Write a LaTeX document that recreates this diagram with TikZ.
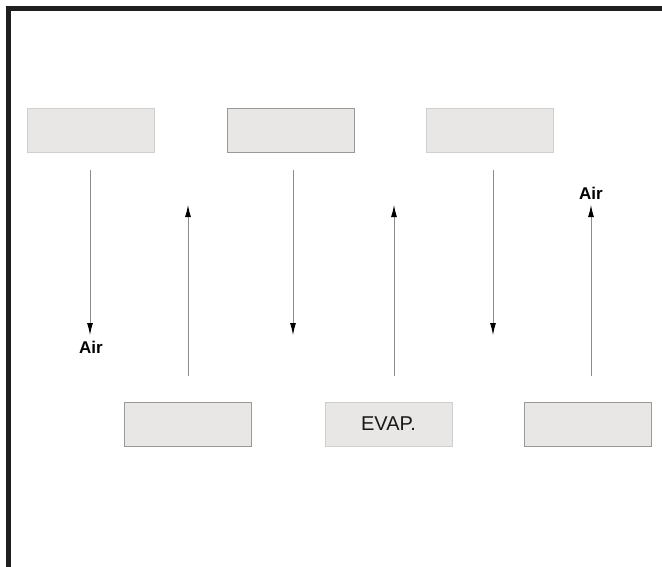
\documentclass[tikz,border=0pt]{standalone}
\usepackage{fontspec}
\setmainfont{Liberation Sans}
\usetikzlibrary{positioning, arrows.meta}
\definecolor{boxfill}{HTML}{E8E7E5}
\definecolor{edgelight}{HTML}{D0CFCD}
\definecolor{edgedark}{HTML}{9A9998}
\definecolor{linegray}{HTML}{8C8C8C}

\begin{document}
\begin{tikzpicture}[x=1pt, y=-1pt,
        unit/.style={draw=#1, fill=boxfill, line width=0.9pt, minimum width=127pt, minimum height=44pt,
                inner sep=0pt, font=\fontsize{20}{24}\selectfont, text=black!90},
        unit/.default=edgelight,
        flow/.style={draw=linegray, line width=0.9pt, -{Latex[black, length=12pt, width=6pt]}},
        lbl/.style={inner sep=0pt, font=\bfseries\fontsize{17}{20}\selectfont}]
        \useasboundingbox (0,0) rectangle (662,566);
        \clip (0,0) rectangle (662,566);
        \draw[line width=5pt, draw=black!88] (8.5,600) |- (700,8.5);

        % upper row
        \node[unit] (top1) at (90.5,130) {};
        \node[unit=edgedark] (top2) at (290.5,130) {};
        \node[unit] (top3) at (490,130) {};
        % lower row
        \node[unit=edgedark] (bot1) at (187.5,424) {};
        \node[unit] (evap) at (388.5,424) {EVAP.};
        \node[unit=edgedark] (bot3) at (587.5,424) {};

        \node[lbl] (airdown) at (91,347) {Air};
        \node[lbl] (airup) at (591,193) {Air};

        \coordinate (d1a) at (90,170);  \coordinate (d1b) at (90,335);
        \coordinate (d2a) at (293,170); \coordinate (d2b) at (293,335);
        \coordinate (d3a) at (493,170); \coordinate (d3b) at (493,335);
        \coordinate (u1a) at (188,376); \coordinate (u1b) at (188,205);
        \coordinate (u2a) at (394,376); \coordinate (u2b) at (394,205);
        \coordinate (u3a) at (591,376); \coordinate (u3b) at (591,205);

        \foreach \a/\b in {d1a/d1b, d2a/d2b, d3a/d3b, u1a/u1b, u2a/u2b, u3a/u3b}
                \draw[flow] (\a) -- (\b);
\end{tikzpicture}
\end{document}
